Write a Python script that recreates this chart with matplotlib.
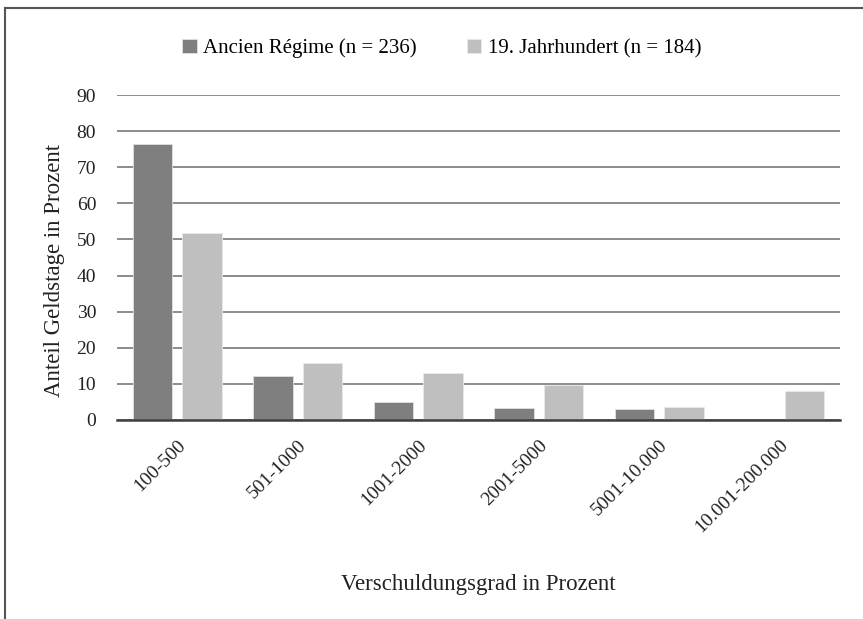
import matplotlib.pyplot as plt
import numpy as np
from matplotlib.lines import Line2D

plt.rcParams['font.family'] = ['Liberation Serif', 'DejaVu Serif']

# Data
categories = ['100-500', '501-1000', '1001-2000', '2001-5000', '5001-10.000', '10.001-200.000']
ancien_regime = [76.5, 12.2, 5.0, 3.3, 3.0, 0.0]
jahrhundert_19 = [51.8, 15.8, 13.0, 9.7, 3.7, 8.0]
series_labels = ['Ancien Régime (n = 236)', '19. Jahrhundert (n = 184)']
yticks = [0, 10, 20, 30, 40, 50, 60, 70, 80, 90]

fig = plt.figure(figsize=(8.63, 6.19), dpi=100)
ax = fig.add_axes([0.1356, 0.3215, 0.8377, 0.525])

x = np.arange(len(categories))
w = 0.33
ax.bar(x - 0.205, ancien_regime, width=w, color='#7f7f7f',
       edgecolor='#e0e0e0', linewidth=0.6, label=series_labels[0], zorder=3)
ax.bar(x + 0.205, jahrhundert_19, width=w, color='#bfbfbf',
       edgecolor='#e8e8e8', linewidth=0.6, label=series_labels[1], zorder=3)

ax.set_xlim(-0.5, len(categories) - 0.5)
ax.set_ylim(0, 90)
ax.set_yticks(yticks)
ax.yaxis.grid(True, color='#6e6e6e', linewidth=1.1)
ax.set_axisbelow(True)
for s in ['top', 'right', 'left']:
    ax.spines[s].set_visible(False)
ax.spines['bottom'].set_color('#404040')
ax.spines['bottom'].set_linewidth(1.8)
ax.spines['bottom'].set_zorder(4)
ax.tick_params(axis='both', length=0, colors='#222222')
ax.tick_params(axis='y', pad=15, labelsize=14)
ax.tick_params(axis='x', pad=12, labelsize=14)
ax.set_xticks(x)
ax.set_xticklabels(categories, rotation=45, ha='right', rotation_mode='anchor')

ax.set_ylabel('Anteil Geldstage in Prozent', fontsize=16.5, color='#222222')
ax.yaxis.set_label_coords(-0.072, 0.46)
ax.set_xlabel('Verschuldungsgrad in Prozent', fontsize=16.5, color='#222222', labelpad=27)

ax.legend(loc='lower center', bbox_to_anchor=(0.449, 1.055), ncol=2, frameon=False,
          fontsize=15, handlelength=0.7, handleheight=0.7, handletextpad=0.3,
          columnspacing=2.4)

# figure frame (top and left edges)
fig.add_artist(Line2D([0.006, 1.0], [0.987, 0.987], transform=fig.transFigure,
                      color='#555555', linewidth=1.5))
fig.add_artist(Line2D([0.006, 0.006], [0.0, 0.987], transform=fig.transFigure,
                      color='#555555', linewidth=1.5))

fig.savefig('out.png', dpi=100)
